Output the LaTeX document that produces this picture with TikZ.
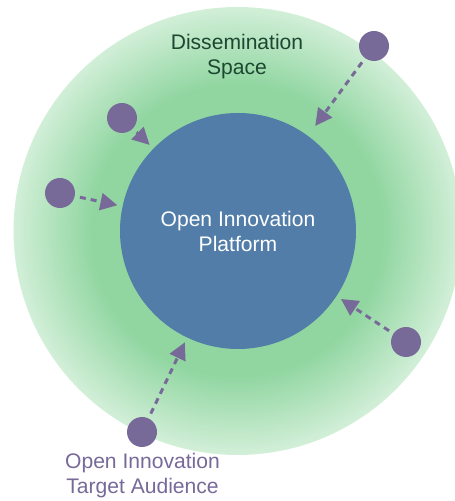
\documentclass[tikz,border=0pt]{standalone}
\usepackage{fontspec}
\setmainfont{Liberation Sans}
\usetikzlibrary{arrows.meta}

\definecolor{spacegreen}{HTML}{91D6A1}
\definecolor{spacelight}{HTML}{D2EFD8}
\definecolor{spacetext}{HTML}{1D4731}
\definecolor{platblue}{HTML}{517DA8}
\definecolor{audpurple}{HTML}{776A99}

\tikzset{
  every node/.style={font=\fontsize{12}{14.2}\selectfont},
  member/.style={circle, fill=audpurple, minimum size=0.6cm, inner sep=0pt},
  reach/.style={audpurple, line width=1.7pt, dash pattern=on 0.12cm off 0.1cm,
    -{Triangle[length=0.34cm,width=0.34cm]}, shorten <=0.1cm, shorten >=0.1cm},
}

\begin{document}
\begin{tikzpicture}
\useasboundingbox (0,0) rectangle (9.1,10.02);

% green halo, lighter towards the rim
\foreach \i in {0,...,52} {
  \pgfmathsetmacro\r{4.48-\i*0.03}
  \pgfmathsetmacro\p{\i*100/52}
  \fill[spacegreen!\p!spacelight] (4.75,5.40) circle (\r);
}
\node[spacetext, align=center] (space) at (4.74,8.88) {Dissemination\\Space};

\node[circle, fill=platblue, minimum size=4.72cm, inner sep=0pt,
  text=white, align=center] (platform) at (4.76,5.40) {Open Innovation\\Platform};

\node[member] (m1) at (7.48,9.10) {};
\node[member] (m2) at (2.44,7.66) {};
\node[member] (m3) at (1.20,6.16) {};
\node[member] (m4) at (8.12,3.18) {};
\node[member] (m5) at (2.84,1.38) {};

\draw[reach, shorten >=0.24cm] (m1) -- (platform);
\draw[reach] (m2) -- (platform);
\draw[reach] (m3) -- (platform);
\draw[reach] (m4) -- (platform);
\draw[reach] (m5) -- (platform);

\node[audpurple, align=center] (audience) at (2.85,0.50) {Open Innovation\\Target Audience};

\end{tikzpicture}
\end{document}
